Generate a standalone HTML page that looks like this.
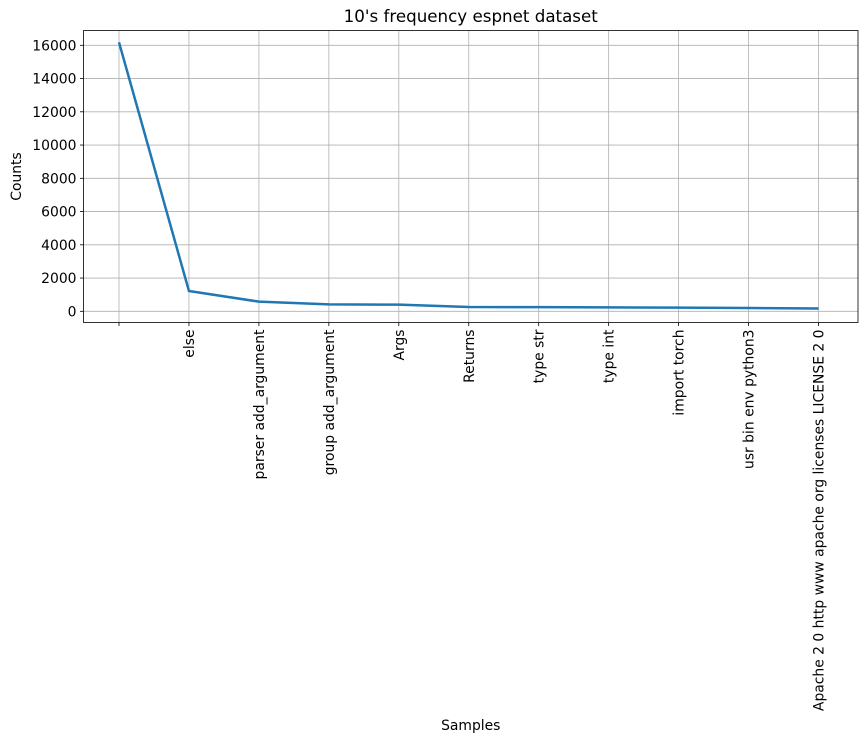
<!DOCTYPE html>
<html><head><meta charset="utf-8"><style>body{margin:0;background:#fff}svg{display:block;font-family:"DejaVu Sans","Liberation Sans",sans-serif}</style></head>
<body>
<svg id="chart" width="868" height="742"></svg>
<script>
const categories=["","else","parser add_argument","group add_argument","Args","Returns","type str","type int","import torch","usr bin env python3","Apache 2 0 http www apache org licenses LICENSE 2 0"];
const counts=[16180,1220,580,420,400,260,250,235,220,195,170];
const yTicks=[0,2000,4000,6000,8000,10000,12000,14000,16000];
const NS="http://www.w3.org/2000/svg";
const svg=document.getElementById('chart');
const L=83.5,R=858,T=30.5,B=322.5;
const xs=i=>119+i*69.95;
const ys=v=>311.3-v*(266/16000);
function mk(t,a,p){const e=document.createElementNS(NS,t);for(const k in a)e.setAttribute(k,a[k]);(p||svg).appendChild(e);return e;}
const grid=mk('g',{});


yTicks.forEach(v=>{
 const y=ys(v);
 const g=mk('line',{x1:L,x2:R,y1:y,y2:y,stroke:'#b0b0b0','stroke-width':0.8},grid);
 
 
 mk('line',{x1:L-3.5,x2:L,y1:y,y2:y,stroke:'#000','stroke-width':0.8});
 const t=mk('text',{x:L-7,y:y+5,'text-anchor':'end','font-size':'13.9',fill:'#000'});
 t.textContent=v;
 
 
});
categories.forEach((c,i)=>{
 const x=xs(i);
 const g=mk('line',{x1:x,x2:x,y1:T,y2:B,stroke:'#b0b0b0','stroke-width':0.8},grid);
 
 
 mk('line',{x1:x,x2:x,y1:B,y2:B+3.5,stroke:'#000','stroke-width':0.8});
 const t=mk('text',{x:0,y:0,'text-anchor':'end','font-size':'13.9',fill:'#000',transform:`translate(${x+5},${B+7}) rotate(-90)`});
 t.textContent=c;
 
 
});
const line=mk('polyline',{points:counts.map((v,i)=>xs(i)+','+ys(v)).join(' '),fill:'none',stroke:'#1f77b4','stroke-width':2.5,'stroke-linejoin':'round'});


const fr=mk('rect',{x:L,y:T,width:R-L,height:B-T,fill:'none',stroke:'#000','stroke-width':0.8});


const ti=mk('text',{x:(L+R)/2,y:22,'text-anchor':'middle','font-size':'16.7',fill:'#000'});
ti.textContent="10's frequency espnet dataset";


const yl=mk('text',{x:0,y:0,'text-anchor':'middle','font-size':'13.9',fill:'#000',transform:`translate(21,${(T+B)/2}) rotate(-90)`});
yl.textContent='Counts';


const xl=mk('text',{x:(L+R)/2,y:730,'text-anchor':'middle','font-size':'13.9',fill:'#000'});
xl.textContent='Samples';


</script>
</body></html>
